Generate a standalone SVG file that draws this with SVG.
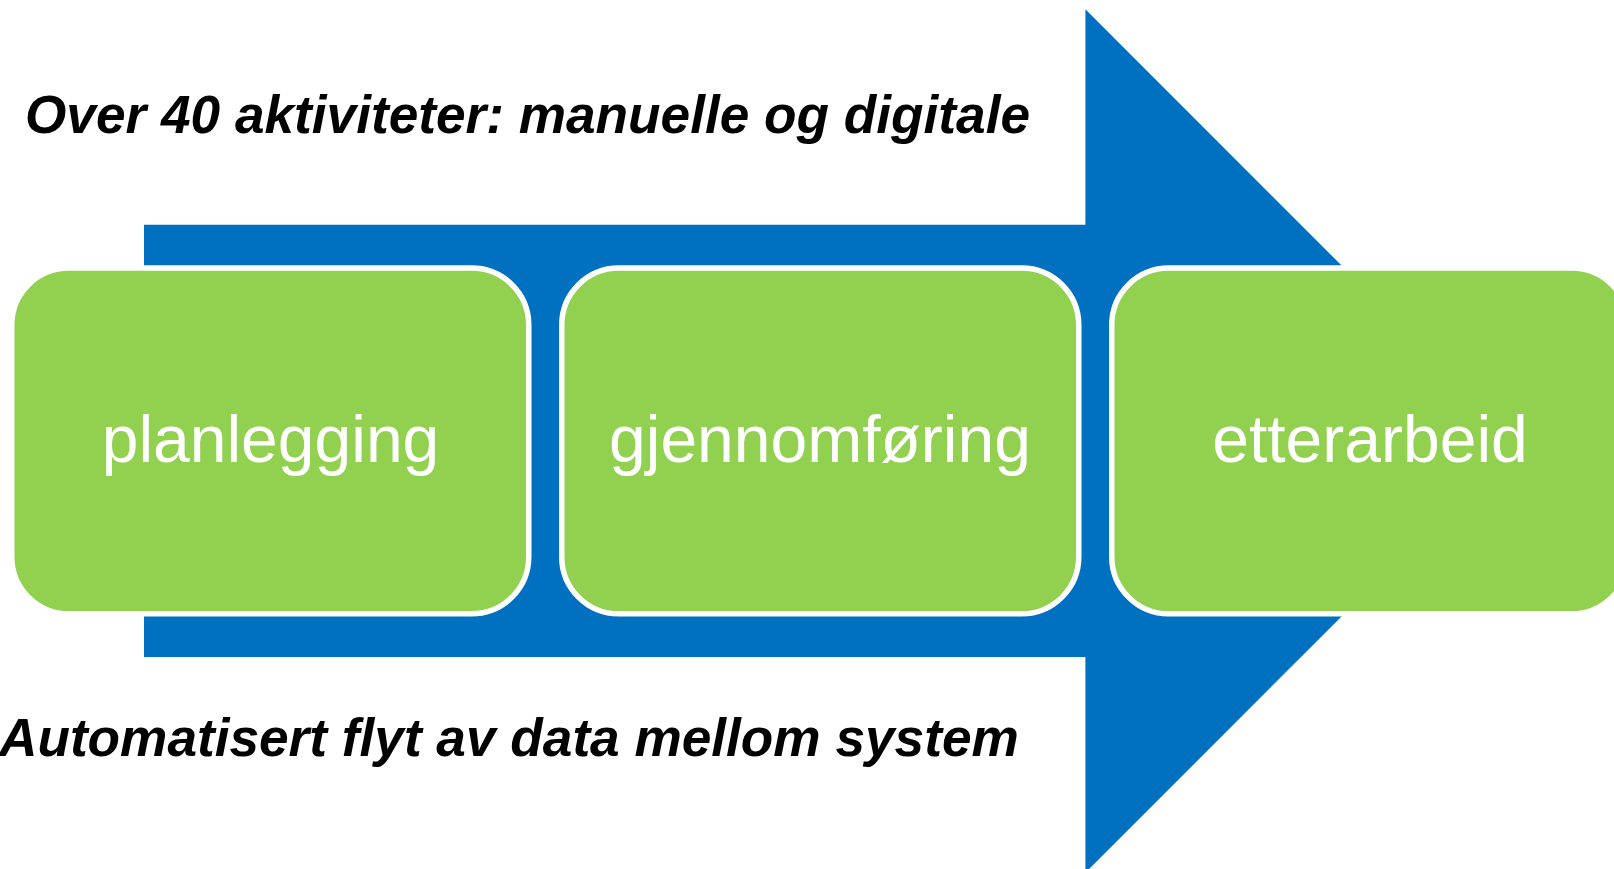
<svg xmlns="http://www.w3.org/2000/svg" width="1614" height="869" viewBox="0 0 1614 869">
  <style>
    .box { fill: #92D050; stroke: #FFFFFF; stroke-width: 5.5; }
    .label { font-family: "Liberation Sans", Arial, sans-serif; font-size: 66px; fill: #FFFFFF; text-anchor: middle; }
    .caption { font-family: "Liberation Sans", Arial, sans-serif; font-size: 53.2px; font-weight: bold; font-style: italic; fill: #000000; }
  </style>
  <rect x="0" y="0" width="1614" height="869" fill="#FFFFFF"/>
  <g id="connectors">
    <path id="flow-arrow" d="M144,224.7 H1085.4 V9.3 L1517,441 L1085.4,872.7 V657 H144 Z" fill="#0070C0"/>
  </g>
  <text class="caption" x="25" y="133">Over 40 aktiviteter: manuelle og digitale</text>
  <text class="caption" x="-1" y="756">Automatisert flyt av data mellom system</text>
  <g id="node-planlegging">
    <rect class="box" x="11.75" y="268" width="517" height="345.8" rx="57" ry="57"/>
    <text class="label" x="270.5" y="461.5">planlegging</text>
  </g>
  <g id="node-gjennomforing">
    <rect class="box" x="561.75" y="268" width="517" height="345.8" rx="57" ry="57"/>
    <text class="label" x="820" y="461.5">gjennomføring</text>
  </g>
  <g id="node-etterarbeid">
    <rect class="box" x="1111.75" y="268" width="517" height="345.8" rx="57" ry="57"/>
    <text class="label" x="1370" y="461.5">etterarbeid</text>
  </g>
</svg>
